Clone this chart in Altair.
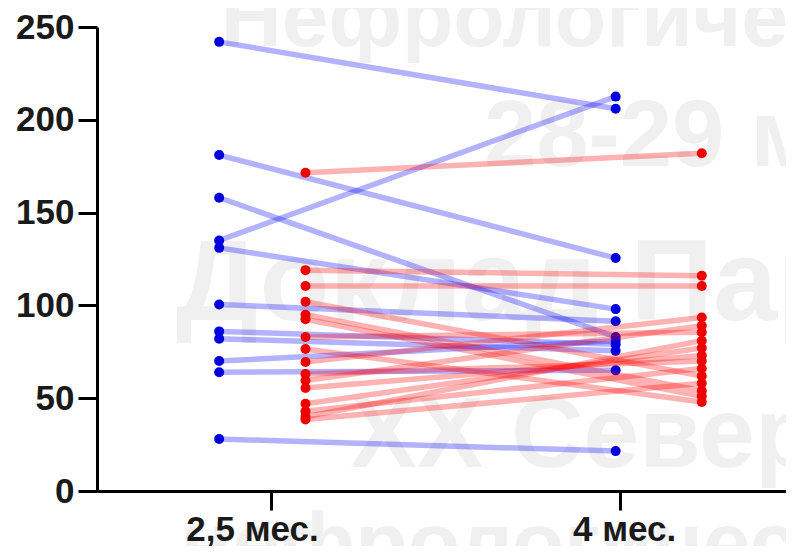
import altair as alt
import pandas as pd

# ---- data ----
periods = ["2,5 мес.", "4 мес."]
period_pos = [2.5, 4.0]

blue_25 = [242, 181, 158, 135, 131, 100.5, 86, 82, 70, 64, 28]
blue_4 = [206, 125.5, 83, 212.5, 98, 91.5, 79, 75.5, 81, 65, 21.5]

red_25 = [171.5, 119, 110.5, 102, 95, 92.5, 83, 76.5, 69.5, 63, 59.5, 55.5, 47, 43, 40, 38.5]
red_4 = [182, 116, 110.5, 62, 54, 51, 85.5, 48, 93.5, 70, 89, 73, 77, 66, 81, 58]

watermark = ["Нефрологичес", "28-29 м", "Доклад Пар", "XX Северо", "нефрологичес"]

# ---- layout constants (group offsets along the x axis, in months) ----
blue_offsets = [-0.223, -0.019]
red_offsets = [0.148, 0.351]


def build(group, v0, v1, offs):
    rows = []
    for i, (a, b) in enumerate(zip(v0, v1)):
        rows.append({"grp": group, "id": f"{group}{i}", "x": period_pos[0] + offs[0], "y": a})
        rows.append({"grp": group, "id": f"{group}{i}", "x": period_pos[1] + offs[1], "y": b})
    return pd.DataFrame(rows)


blue_df = build("blue", blue_25, blue_4, blue_offsets)
red_df = build("red", red_25, red_4, red_offsets)

wm_df = pd.DataFrame({
    "t": watermark,
    "x": [2.285, 3.415, 2.092, 2.84, 2.11],
    "y": [239.8, 175.2, 92.3, 13.2, -43.4],
    "fs": [84, 94, 115, 100, 86],
})

x_scale = alt.Scale(domain=[1.752, 4.713], nice=False, zero=False)
y_scale = alt.Scale(domain=[0, 250], nice=False)

label_map = "datum.value == 2.5 ? '2,5 мес.' : '4 мес.'"

x_enc = alt.X(
    "x:Q", scale=x_scale, title=None,
    axis=alt.Axis(values=period_pos, labelExpr=label_map, tickSize=19, labelPadding=2,
                  labelFontSize=35, zindex=2,
                  labelOffset={"condition": {"test": "datum.value == 2.5", "value": -19}, "value": 4}),
)
y_enc = alt.Y(
    "y:Q", scale=y_scale, title=None,
    axis=alt.Axis(values=[0, 50, 100, 150, 200, 250], tickSize=19, labelPadding=4,
                  labelFontSize=35, zindex=2),
)

wm = alt.Chart(wm_df).mark_text(
    align="left", baseline="alphabetic", fontWeight="bold",
    font="Liberation Sans", color="#f0f0f0",
).encode(
    x=alt.X("x:Q", scale=x_scale),
    y=alt.Y("y:Q", scale=y_scale),
    text="t:N",
    size=alt.Size("fs:Q", scale=None, legend=None),
)


def lines(df, color):
    return alt.Chart(df).mark_line(strokeWidth=5.5, opacity=0.3, color=color).encode(
        x=x_enc, y=y_enc, detail="id:N"
    )


def points(df, color):
    return alt.Chart(df).mark_circle(size=100, opacity=1, color=color).encode(x=x_enc, y=y_enc)


chart = alt.layer(
    wm,
    lines(blue_df, "#0000ff"),
    points(blue_df, "#0000dd"),
    lines(red_df, "#ff0000"),
    points(red_df, "#ee0000"),
).properties(
    width=689,
    height=464,
    autosize=alt.AutoSizeParams(type="none"),
    padding={"left": 89, "top": 19, "right": 0, "bottom": 55},
    background="white",
).configure_view(
    stroke=None
).configure_axis(
    domainColor="black",
    domainWidth=3,
    tickColor="black",
    tickWidth=3,
    labelColor="#1a1a1a",
    labelFont="Liberation Sans",
    labelFontWeight="bold",
    grid=False,
)

chart.save("out.html", embed_options={"renderer": "svg", "actions": False})
